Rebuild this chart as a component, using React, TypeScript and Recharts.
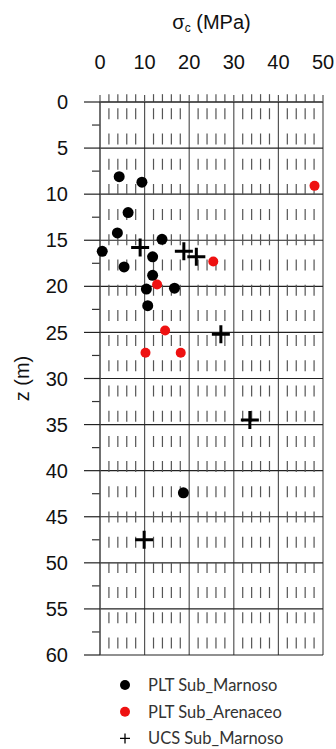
import React from 'react';
import {
  ScatterChart,
  Scatter,
  XAxis,
  YAxis,
  CartesianGrid,
  ReferenceLine,
  Legend
} from 'recharts';

// PLT Sub_Marnoso
const pltMarnosoSigma = [4.3, 9.4, 6.3, 3.9, 13.9, 0.5, 11.8, 5.4, 11.8, 10.4, 16.7, 10.7, 18.7];
const pltMarnosoZ = [8.1, 8.7, 12.0, 14.2, 14.9, 16.2, 16.8, 17.9, 18.8, 20.3, 20.2, 22.1, 42.4];

// PLT Sub_Arenaceo
const pltArenaceoSigma = [48.1, 25.4, 12.8, 14.6, 10.2, 18.1];
const pltArenaceoZ = [9.1, 17.3, 19.8, 24.8, 27.2, 27.2];

// UCS Sub_Marnoso
const ucsMarnosoSigma = [9.0, 18.8, 21.6, 27.1, 33.6, 9.9];
const ucsMarnosoZ = [15.8, 16.2, 16.8, 25.2, 34.5, 47.5];

const seriesNames = ['PLT Sub_Marnoso', 'PLT Sub_Arenaceo', 'UCS Sub_Marnoso'];

const xTicks = [0, 10, 20, 30, 40, 50];
const yTicks = [0, 5, 10, 15, 20, 25, 30, 35, 40, 45, 50, 55, 60];
const xMinor = [2, 4, 6, 8, 12, 14, 16, 18, 22, 24, 26, 28, 32, 34, 36, 38, 42, 44, 46, 48];
const yMinor = [2.5, 7.5, 12.5, 17.5, 22.5, 27.5, 32.5, 37.5, 42.5, 47.5, 52.5, 57.5];

const toPoints = (sigma: number[], z: number[]) => sigma.map((s, i) => ({ sigma: s, z: z[i] }));

const pltMarnoso = toPoints(pltMarnosoSigma, pltMarnosoZ);
const pltArenaceo = toPoints(pltArenaceoSigma, pltArenaceoZ);
const ucsMarnoso = toPoints(ucsMarnosoSigma, ucsMarnosoZ);

const FONT = '"Liberation Sans", Arial, sans-serif';
const GRID_V = '#555';
const GRID_H = '#222';

const Dot = (color: string, r: number) => (props: any) => (
  <circle cx={props.cx} cy={props.cy} r={r} fill={color} />
);

const Cross = (props: any) => {
  const { cx, cy } = props;
  const h = 9;
  return (
    <path
      d={`M${cx - h},${cy}H${cx + h}M${cx},${cy - h}V${cy + h}`}
      stroke="#000"
      strokeWidth={3}
      fill="none"
    />
  );
};

const renderTitle = (p: any) => {
  const vb = p.viewBox;
  return (
    <text x={vb.x + vb.width / 2} y={vb.y + 29} textAnchor="middle" fontFamily={FONT} fontSize={20} fill="#111">
      σ<tspan fontSize={12} dy={3}>c</tspan>
      <tspan dy={-3}> (MPa)</tspan>
    </text>
  );
};

const renderZLabel = (p: any) => {
  const vb = p.viewBox;
  const x = 22;
  const y = vb.y + vb.height / 2;
  return (
    <text x={x} y={y} transform={`rotate(-90, ${x}, ${y})`} textAnchor="middle" dominantBaseline="central"
      fontFamily={FONT} fontSize={20} fill="#111">
      z (m)
    </text>
  );
};

const renderLegend = (props: any) => {
  // keep the series order, not alphabetical
  const payload = [...props.payload].sort(
    (a: any, b: any) => seriesNames.indexOf(a.value) - seriesNames.indexOf(b.value)
  );
  return (
    <svg width={220} height={80}>
      {payload.map((entry: any, i: number) => {
        const y = 13 + i * 26.7;
        return (
          <g key={entry.value}>
            {entry.type === 'cross' ? (
              <path d={`M3,${y}H13M8,${y - 5}V${y + 5}`} stroke="#000" strokeWidth={1.3} />
            ) : (
              <circle cx={8} cy={y} r={5} fill={entry.color} />
            )}
            <text x={31} y={y} dominantBaseline="central" fontFamily="Lato, sans-serif" fontSize={16.5} fill="#333">
              {entry.value}
            </text>
          </g>
        );
      })}
    </svg>
  );
};

export default function App() {
  return (
    <div style={{ position: 'absolute', left: 0, top: 0, width: 336, height: 749, background: '#fff' }}>
      <ScatterChart width={336} height={749} margin={{ top: 0, right: 13, bottom: 94, left: 0 }}>
        <CartesianGrid horizontal={false} stroke={GRID_V} strokeWidth={1.2} />
        <CartesianGrid vertical={false} stroke={GRID_H} strokeWidth={1.2} />
        {xMinor.map(x => (
          <ReferenceLine
            key={`mv-${x}`}
            segment={[{ x, y: 0 }, { x, y: 60 }]}
            stroke="#555"
            strokeWidth={1.2}
            strokeDasharray="11 14.2"
            strokeDashoffset={18.9}
            ifOverflow="visible"
          />
        ))}
        {xMinor.map(x => (
          <ReferenceLine
            key={`mt-${x}`}
            segment={[{ x, y: -0.85 }, { x, y: 0 }]}
            stroke="#555"
            strokeWidth={1.2}
            ifOverflow="visible"
          />
        ))}
        {yMinor.map(y => (
          <ReferenceLine
            key={`ml-${y}`}
            segment={[{ x: -1.8, y }, { x: 0, y }]}
            stroke="#333"
            strokeWidth={1.2}
            ifOverflow="visible"
          />
        ))}
        <XAxis
          type="number"
          dataKey="sigma"
          orientation="top"
          domain={[0, 50]}
          ticks={xTicks}
          interval={0}
          height={102}
          tickSize={7}
          tickMargin={26}
          axisLine={{ stroke: GRID_H, strokeWidth: 1.2 }}
          tickLine={{ stroke: GRID_V, strokeWidth: 1.2 }}
          tick={{ fontSize: 20, fill: '#111', fontFamily: FONT }}
          label={{ content: renderTitle }}
        />
        <YAxis
          type="number"
          dataKey="z"
          domain={[0, 60]}
          reversed
          ticks={yTicks}
          interval={0}
          width={100}
          tickSize={16}
          tickMargin={16}
          axisLine={{ stroke: GRID_V, strokeWidth: 1.2 }}
          tickLine={{ stroke: GRID_H, strokeWidth: 1.2 }}
          tick={{ fontSize: 20, fill: '#111', fontFamily: FONT }}
          label={{ content: renderZLabel }}
        />
        <Scatter name="PLT Sub_Marnoso" data={pltMarnoso} fill="#000" legendType="circle"
          shape={Dot('#000', 5.5)} isAnimationActive={false} />
        <Scatter name="PLT Sub_Arenaceo" data={pltArenaceo} fill="#ee1111" legendType="circle"
          shape={Dot('#ee1111', 5)} isAnimationActive={false} />
        <Scatter name="UCS Sub_Marnoso" data={ucsMarnoso} fill="#000" legendType="cross"
          shape={Cross} isAnimationActive={false} />
        <Legend
          layout="vertical"
          align="center"
          verticalAlign="middle"
          content={renderLegend}
          wrapperStyle={{ top: 672, left: 117, width: 220, height: 80 }}
        />
      </ScatterChart>
    </div>
  );
}
